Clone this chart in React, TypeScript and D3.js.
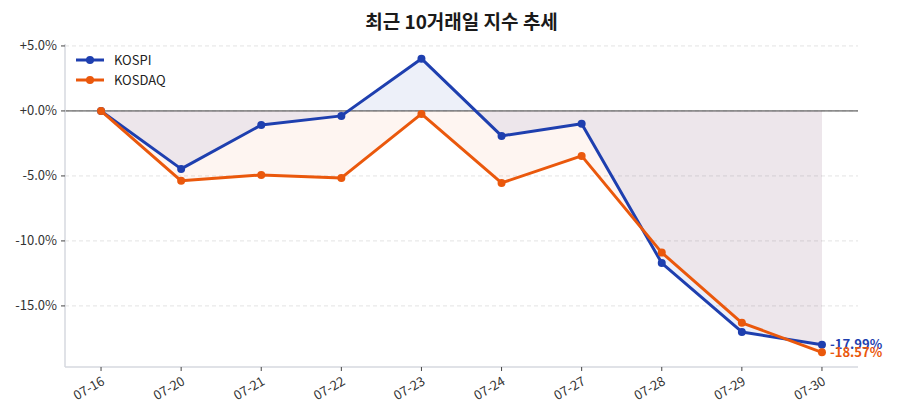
import React, { useEffect } from 'react';
import * as d3 from 'd3';

const dates = ['07-16', '07-20', '07-21', '07-22', '07-23', '07-24', '07-27', '07-28', '07-29', '07-30'];
const kospi = [0, -4.46, -1.08, -0.38, 4.02, -1.92, -0.98, -11.7, -17.0, -17.99];
const kosdaq = [0, -5.38, -4.92, -5.15, -0.23, -5.54, -3.46, -10.9, -16.3, -18.57];
const yTicks = [5, 0, -5, -10, -15];

const seriesList = [
  { name: 'KOSPI', values: kospi, color: '#1e3faf', fill: 'rgba(30,63,175,0.08)' },
  { name: 'KOSDAQ', values: kosdaq, color: '#ea580c', fill: 'rgba(234,88,12,0.06)' },
];

const W = 900;
const H = 420;
const margin = { left: 65, right: 42, top: 44, bottom: 53 };
const font = '"Noto Sans CJK KR", "Noto Sans", sans-serif';

const App: React.FC = () => {
  useEffect(() => {
    document.body.style.margin = '0';
  }, []);

  const allVals = [...kospi, ...kosdaq];
  const yMin = d3.min(allVals)!;
  const yMax = d3.max(allVals)!;
  const pad = (yMax - yMin) * 0.05;

  const x = d3.scaleLinear()
    .domain([-0.45, dates.length - 1 + 0.45])
    .range([margin.left, W - margin.right]);
  const y = d3.scaleLinear()
    .domain([yMin - pad, yMax + pad])
    .range([H - margin.bottom, margin.top]);

  const line = d3.line<number>().x((_, i) => x(i)).y(d => y(d));
  const area = d3.area<number>().x((_, i) => x(i)).y0(y(0)).y1(d => y(d));

  const fmt = (v: number) => (v >= 0 ? '+' : '') + v.toFixed(1) + '%';
  const x0 = margin.left;
  const x1 = W - margin.right;
  const yBottom = H - margin.bottom;
  const last = dates.length - 1;

  return (
    <svg width={W} height={H} style={{ display: 'block', fontFamily: font }}>
      <rect width={W} height={H} fill="#fff" />
      <text x={(x0 + x1) / 2} y={29} textAnchor="middle" fontSize={19} fontWeight={700} fill="#1a1a1a">
        최근 10거래일 지수 추세
      </text>

      {/* grid */}
      {yTicks.map(t => (
        <line key={t} x1={x0} x2={x1} y1={y(t)} y2={y(t)} stroke="#e3e3e3" strokeDasharray="4,3" />
      ))}

      {/* fills */}
      {seriesList.map(s => (
        <path key={s.name + '-a'} d={area(s.values)!} fill={s.fill} />
      ))}

      {/* zero line */}
      <line x1={x0} x2={x1} y1={y(0)} y2={y(0)} stroke="#3f3f3f" strokeWidth={1} />

      {/* spines */}
      <line x1={x0} x2={x0} y1={margin.top} y2={yBottom} stroke="#d6d9df" strokeWidth={1.5} />
      <line x1={x0} x2={x1} y1={yBottom} y2={yBottom} stroke="#d6d9df" strokeWidth={1.5} />

      {/* y ticks */}
      {yTicks.map(t => (
        <g key={'yt' + t}>
          <line x1={x0 - 4} x2={x0} y1={y(t)} y2={y(t)} stroke="#444" />
          <text x={x0 - 8} y={y(t)} dy="0.35em" textAnchor="end" fontSize={13} fill="#333">
            {fmt(t)}
          </text>
        </g>
      ))}

      {/* x ticks */}
      {dates.map((d, i) => (
        <g key={d}>
          <line x1={x(i)} x2={x(i)} y1={yBottom} y2={yBottom + 4} stroke="#444" />
          <text
            transform={`translate(${x(i)},${yBottom + 9}) rotate(-30)`}
            dy="0.7em"
            textAnchor="end"
            fontSize={13}
            fill="#333"
          >
            {d}
          </text>
        </g>
      ))}

      {/* lines + markers */}
      {seriesList.map(s => (
        <g key={s.name}>
          <path d={line(s.values)!} fill="none" stroke={s.color} strokeWidth={3} strokeLinejoin="round" />
          {s.values.map((v, i) => (
            <circle key={i} cx={x(i)} cy={y(v)} r={4} fill={s.color} />
          ))}
        </g>
      ))}

      {/* end labels */}
      {seriesList.map(s => (
        <text
          key={s.name + '-l'}
          x={x(last) + 8}
          y={y(s.values[last])}
          dy="0.35em"
          fontSize={13}
          fontWeight={700}
          fill={s.color}
        >
          {s.values[last].toFixed(2)}%
        </text>
      ))}

      {/* legend */}
      {seriesList.map((s, i) => (
        <g key={s.name + '-lg'} transform={`translate(76,${60 + i * 20})`}>
          <line x1={0} x2={28} y1={0} y2={0} stroke={s.color} strokeWidth={3} />
          <circle cx={14} cy={0} r={4} fill={s.color} />
          <text x={38} y={0} dy="0.35em" fontSize={13} fill="#222">
            {s.name}
          </text>
        </g>
      ))}
    </svg>
  );
};

export default App;
